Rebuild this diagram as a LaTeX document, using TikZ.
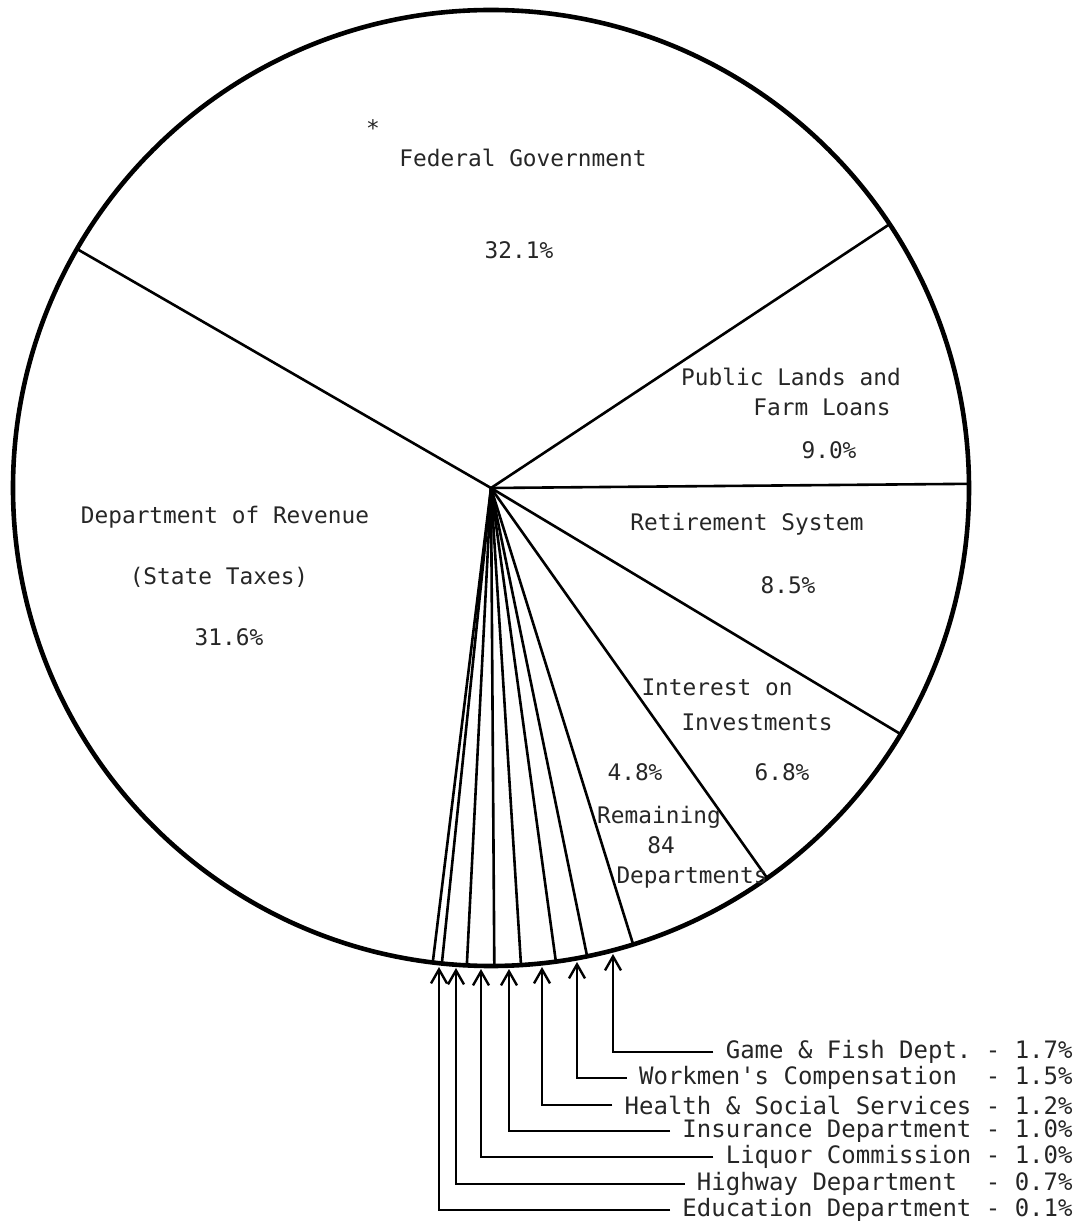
\documentclass[tikz,border=0pt]{standalone}
\usepackage{fontspec}
\newfontfamily\typewriter{DejaVu Sans Mono}
\usetikzlibrary{arrows.meta}

\begin{document}
\begin{tikzpicture}[x=0.5pt,y=0.5pt]
			\useasboundingbox (-491,-737) rectangle (586,488);
			\begin{scope}
				[
					rim/.style={draw, line width=2.3pt},
					spoke/.style={draw, line width=1.3pt},
				]
				\coordinate (ctr) at (0,0);
				\path[rim] (ctr) circle (478);
				\foreach \ang in {150, 33.5, 0.5, -31, -54.7, -72.7,
				                  -78.4, -82.2, -86.4, -89.6, -92.9, -95.9, -97.0}
					\path[spoke] (ctr) -- (\ang:478);
			\end{scope}
			\begin{scope}
				[
					slice/.style={font=\typewriter\fontsize{11.4}{13}\selectfont\frenchspacing,
						text=black!85, inner sep=0pt},
					legend/.style={font=\typewriter\fontsize{12}{14}\selectfont\frenchspacing,
						text=black!85, anchor=east, inner xsep=6pt, inner ysep=0pt},
				]
				\node(star)[slice] at (-118,360) {*};
				\node(fed)[slice] at (32,330) {Federal Government};
				\node(fedpc)[slice] at (28,238) {32.1\%};

				\node(lands)[slice] at (300,111) {Public Lands and};
				\node(farm)[slice] at (331,81) {Farm Loans};
				\node(landspc)[slice] at (338,38) {9.0\%};

				\node(retire)[slice] at (256,-36) {Retirement System};
				\node(retirepc)[slice] at (297,-97) {8.5\%};

				\node(interest)[slice] at (226,-199) {Interest on};
				\node(invest)[slice] at (266,-234) {Investments};
				\node(interestpc)[slice] at (291,-284) {6.8\%};

				\node(restpc)[slice] at (144,-284) {4.8\%};
				\node(rest)[slice] at (168,-329) {Remaining};
				\node(restnum)[slice] at (170,-357) {84};
				\node(restdept)[slice] at (201,-390) {Departments};

				\node(revenue)[slice] at (-266,-29) {Department of Revenue};
				\node(taxes)[slice] at (-272,-89) {(State Taxes)};
				\node(revenuepc)[slice] at (-262,-149) {31.6\%};

				\node(game)[legend] at (594,-564) {Game \& Fish Dept. - 1.7\%};
				\node(work)[legend] at (594,-590) {Workmen's Compensation\ \ - 1.5\%};
				\node(health)[legend] at (594,-617) {Health \& Social Services - 1.2\%};
				\node(insure)[legend] at (594,-643) {Insurance Department - 1.0\%};
				\node(liquor)[legend] at (594,-669) {Liquor Commission - 1.0\%};
				\node(highway)[legend] at (594,-696) {Highway Department\ \ - 0.7\%};
				\node(educ)[legend] at (594,-722) {Education Department - 0.1\%};
			\end{scope}
			\begin{scope}
				[
					pointer/.style={draw, line width=1.1pt,
						-{Straight Barb[length=7pt,width=8pt,line width=1.2pt]}},
				]
				\coordinate (tipgame) at (122,-466);
				\coordinate (tipwork) at (86,-474);
				\coordinate (tiphealth) at (51,-479);
				\coordinate (tipinsure) at (18,-481);
				\coordinate (tipliquor) at (-10,-481);
				\coordinate (tiphighway) at (-35,-480);
				\coordinate (tipeduc) at (-52,-479);

				\path[pointer] (game.west) -| (tipgame);
				\path[pointer] (work.west) -| (tipwork);
				\path[pointer] (health.west) -| (tiphealth);
				\path[pointer] (insure.west) -| (tipinsure);
				\path[pointer] (liquor.west) -| (tipliquor);
				\path[pointer] (highway.west) -| (tiphighway);
				\path[pointer] (educ.west) -| (tipeduc);
			\end{scope}
		\end{tikzpicture}
\end{document}
